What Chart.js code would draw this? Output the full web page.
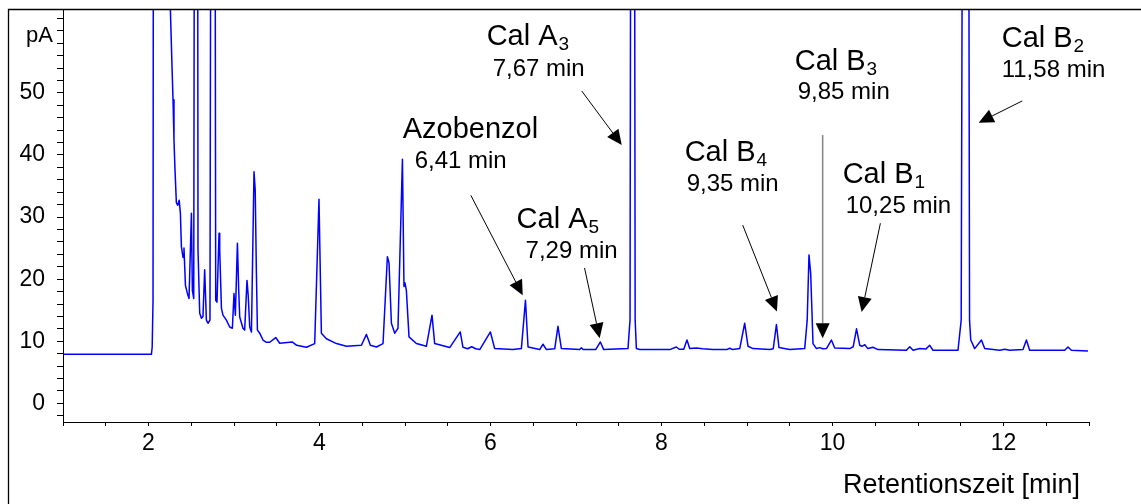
<!DOCTYPE html>
<html>
<head>
<meta charset="utf-8">
<script src="https://cdn.jsdelivr.net/npm/chart.js@4.4.1/dist/chart.umd.min.js"></script>
<style>
  html, body { margin: 0; padding: 0; background: #fff; }
  #wrap { width: 1141px; height: 504px; }
</style>
</head>
<body>
<div id="wrap"><canvas id="chromatogram" width="1141" height="504"></canvas></div>
<script>
// FID chromatogram: retention time [min] and detector signal [pA]
const retentionTime = [
  1.000, 1.429, 2.034, 2.043, 2.053, 2.070, 2.240, 2.256, 2.275, 2.287,
  2.298, 2.310, 2.326, 2.341, 2.359, 2.373, 2.385, 2.404, 2.415, 2.432,
  2.455, 2.474, 2.502, 2.513, 2.529, 2.560, 2.579, 2.599, 2.619, 2.637,
  2.657, 2.677, 2.696, 2.719, 2.757, 2.786, 2.801, 2.825, 2.833, 2.853,
  2.871, 2.911, 2.950, 2.981, 3.000, 3.016, 3.040, 3.055, 3.067, 3.105,
  3.125, 3.152, 3.166, 3.184, 3.204, 3.234, 3.248, 3.262, 3.274, 3.301,
  3.339, 3.379, 3.418, 3.488, 3.535, 3.681, 3.733, 3.847, 3.944, 3.994,
  4.022, 4.081, 4.198, 4.315, 4.490, 4.549, 4.595, 4.666, 4.743, 4.794,
  4.813, 4.841, 4.880, 4.918, 4.970, 4.988, 5.000, 5.016, 5.047, 5.133,
  5.250, 5.316, 5.347, 5.523, 5.646, 5.678, 5.733, 5.780, 5.827, 5.874,
  5.999, 6.049, 6.263, 6.361, 6.409, 6.439, 6.575, 6.614, 6.654, 6.751,
  6.789, 6.829, 7.043, 7.063, 7.084, 7.230, 7.285, 7.324, 7.608, 7.632,
  7.663, 7.692, 7.706, 7.745, 8.096, 8.174, 8.207, 8.260, 8.298, 8.330,
  8.408, 8.482, 8.602, 8.763, 8.798, 8.833, 8.915, 8.973, 9.012, 9.070,
  9.266, 9.307, 9.344, 9.374, 9.499, 9.675, 9.704, 9.725, 9.745, 9.772,
  9.812, 9.850, 9.886, 9.929, 9.987, 10.026, 10.201, 10.242, 10.281, 10.319,
  10.343, 10.378, 10.413, 10.474, 10.532, 10.864, 10.904, 10.942, 11.020, 11.091,
  11.137, 11.175, 11.468, 11.505, 11.564, 11.603, 11.617, 11.663, 11.742, 11.780,
  11.956, 12.014, 12.073, 12.228, 12.268, 12.306, 12.716, 12.754, 12.794, 12.988
];
const signal = [
  7.90, 7.90, 7.90, 9.03, 16.6, 300, 300, 63.4, 54.2, 48.9,
  42.4, 37.6, 32.3, 31.9, 32.7, 30.6, 25.2, 23.5, 25.0, 19.0,
  17.7, 16.9, 30.6, 18.2, 16.9, 300, 24.7, 14.5, 13.7, 14.0,
  21.5, 13.4, 12.9, 13.4, 300, 16.6, 16.3, 27.4, 24.7, 15.3,
  14.2, 13.4, 12.3, 12.1, 17.7, 14.2, 25.8, 18.2, 13.9, 12.1,
  11.8, 19.8, 17.4, 12.3, 11.5, 37.3, 34.4, 21.0, 11.8, 11.3,
  10.2, 9.84, 9.84, 10.6, 9.68, 9.89, 9.35, 9.03, 9.63, 32.85,
  11.3, 10.4, 9.63, 9.19, 9.35, 11.1, 9.35, 9.08, 9.63, 23.6,
  22.6, 12.9, 11.3, 12.1, 39.3, 18.8, 19.4, 18.2, 10.7, 9.63,
  9.19, 14.2, 9.63, 8.98, 11.5, 9.03, 8.79, 9.11, 8.79, 8.66,
  11.5, 8.82, 8.66, 8.82, 16.6, 9.08, 8.66, 9.52, 8.66, 8.79,
  12.4, 8.82, 8.66, 8.95, 8.66, 8.66, 9.89, 8.66, 8.82, 13.4,
  300, 13.4, 8.82, 8.66, 8.66, 9.08, 8.71, 8.71, 10.2, 8.82,
  8.92, 8.79, 8.66, 8.66, 8.87, 8.66, 8.82, 12.9, 9.19, 8.82,
  8.66, 8.79, 12.7, 8.98, 8.66, 8.82, 13.4, 23.9, 20.9, 9.63,
  8.82, 8.98, 8.79, 8.82, 10.2, 8.92, 8.82, 9.11, 12.0, 9.35,
  9.19, 9.44, 8.82, 9.03, 8.66, 8.55, 9.11, 8.55, 8.82, 8.74,
  9.35, 8.55, 8.55, 13.4, 300, 13.4, 10.2, 8.82, 10.2, 8.82,
  8.55, 8.71, 8.55, 8.66, 10.2, 8.55, 8.55, 9.08, 8.55, 8.44
];

// axis labelling
const xTickLabels = [2, 4, 6, 8, 10, 12];
const yTickLabels = [0, 10, 20, 30, 40, 50];
const yUnit = 'pA';
const xTitle = 'Retentionszeit [min]';

// identified peaks
const peakNames = ['Cal A', 'Azobenzol', 'Cal A', 'Cal B', 'Cal B', 'Cal B', 'Cal B'];
const peakSubscripts = ['3', '', '5', '4', '3', '1', '2'];
const peakTimeLabels = ['7,67 min', '6,41 min', '7,29 min', '9,35 min', '9,85 min', '10,25 min', '11,58 min'];

// callout placement in axis units: [min, pA]
const calloutLayout = [
  { name: [5.955, 57.74], time: [6.025, 52.74], from: [7.067, 50.3], to: [7.535, 41.6] },
  { name: [4.973, 42.74], time: [5.113, 37.90], from: [5.770, 33.5], to: [6.377, 17.4] },
  { name: [6.305, 28.23], time: [6.410, 23.39], from: [7.100, 21.8], to: [7.277, 10.5] },
  { name: [8.271, 39.03], time: [8.294, 34.19], from: [8.950, 28.7], to: [9.350, 14.8] },
  { name: [9.558, 53.71], time: [9.593, 49.03], from: [9.885, 43.2], to: [9.885, 10.5], grey: true },
  { name: [10.119, 35.48], time: [10.154, 30.65], from: [10.560, 29.0], to: [10.341, 14.7] },
  { name: [11.979, 57.42], time: [11.979, 52.58], from: [12.220, 48.7], to: [11.710, 45.2] }
];

const FONT = "'Liberation Sans', Arial, Helvetica, sans-serif";

const trace = retentionTime.map((t, i) => ({ x: t, y: signal[i] }));

// outer frame (top and left edge)
const framePlugin = {
  id: 'frame',
  afterDraw(chart) {
    const ctx = chart.ctx;
    ctx.save();
    ctx.strokeStyle = '#000';
    ctx.lineWidth = 1.3;
    ctx.beginPath();
    ctx.moveTo(8.5, 504);
    ctx.lineTo(8.5, 9.5);
    ctx.lineTo(1141, 9.5);
    ctx.stroke();
    ctx.restore();
  }
};

// unit label on the y axis and title of the x axis
const axisTextPlugin = {
  id: 'axisText',
  afterDraw(chart) {
    const ctx = chart.ctx;
    const ys = chart.scales.y;
    const area = chart.chartArea;
    ctx.save();
    ctx.fillStyle = '#000';
    ctx.font = '22px ' + FONT;
    ctx.textAlign = 'right';
    ctx.textBaseline = 'alphabetic';
    ctx.fillText(yUnit, area.left - 10, ys.getPixelForValue(60) + 11);
    ctx.font = '27px ' + FONT;
    ctx.fillText(xTitle, area.right - 9, 493);
    ctx.restore();
  }
};

function arrow(ctx, x1, y1, x2, y2, lineColor, lineWidth) {
  const len = 15, half = 7;
  const ang = Math.atan2(y2 - y1, x2 - x1);
  const bx = x2 - len * Math.cos(ang), by = y2 - len * Math.sin(ang);
  ctx.strokeStyle = lineColor;
  ctx.lineWidth = lineWidth;
  ctx.beginPath();
  ctx.moveTo(x1, y1);
  ctx.lineTo(bx, by);
  ctx.stroke();
  ctx.fillStyle = '#000';
  ctx.beginPath();
  ctx.moveTo(x2, y2);
  ctx.lineTo(bx + half * Math.sin(ang), by - half * Math.cos(ang));
  ctx.lineTo(bx - half * Math.sin(ang), by + half * Math.cos(ang));
  ctx.closePath();
  ctx.fill();
}

// peak names, retention times and arrows
const calloutPlugin = {
  id: 'callouts',
  afterDatasetsDraw(chart) {
    const ctx = chart.ctx;
    const xs = chart.scales.x, ys = chart.scales.y;
    const px = p => [xs.getPixelForValue(p[0]), ys.getPixelForValue(p[1])];
    ctx.save();
    calloutLayout.forEach((c, i) => {
      const [fx, fy] = px(c.from);
      const [tx, ty] = px(c.to);
      arrow(ctx, fx, fy, tx, ty, c.grey ? '#8a8a8a' : '#000', c.grey ? 1.6 : 1);

      ctx.fillStyle = '#000';
      ctx.textAlign = 'left';
      ctx.textBaseline = 'alphabetic';
      const [nx, ny] = px(c.name);
      ctx.font = '29px ' + FONT;
      ctx.fillText(peakNames[i], nx, ny);
      if (peakSubscripts[i]) {
        const w = ctx.measureText(peakNames[i]).width;
        ctx.font = '19px ' + FONT;
        ctx.fillText(peakSubscripts[i], nx + w + 1, ny + 5);
      }
      const [mx, my] = px(c.time);
      ctx.font = '24px ' + FONT;
      ctx.fillText(peakTimeLabels[i], mx, my);
    });
    ctx.restore();
  }
};

new Chart(document.getElementById('chromatogram'), {
  type: 'line',
  data: {
    datasets: [{
      data: trace,
      borderColor: '#0000ff',
      borderWidth: 1.5,
      borderJoinStyle: 'round',
      pointRadius: 0,
      tension: 0,
      fill: false
    }]
  },
  options: {
    responsive: false,
    animation: false,
    devicePixelRatio: 1,
    events: [],
    layout: { padding: { left: 0, top: 9, right: 52, bottom: 0 } },
    plugins: { legend: { display: false }, tooltip: { enabled: false } },
    scales: {
      x: {
        type: 'linear',
        min: 1,
        max: 13,
        afterFit(scale) {
          scale.height = 82;
          scale.paddingLeft = 0;
          scale.paddingRight = 0;
        },
        border: { display: true, color: '#000', width: 1 },
        grid: { drawOnChartArea: false, drawTicks: true, tickLength: 4, color: '#000', lineWidth: 1 },
        ticks: {
          stepSize: 0.5,
          autoSkip: false,
          maxRotation: 0,
          padding: 4,
          color: '#000',
          font: { family: FONT, size: 23 },
          callback: v => (xTickLabels.includes(v) ? String(v) : '')
        }
      },
      y: {
        type: 'linear',
        min: -3,
        max: 63.5,
        afterFit(scale) {
          scale.width = 63;
          scale.paddingTop = 0;
          scale.paddingBottom = 0;
        },
        border: { display: true, color: '#000', width: 1 },
        grid: { drawOnChartArea: false, drawTicks: true, tickLength: 6, color: '#000', lineWidth: 1 },
        ticks: {
          stepSize: 2,
          includeBounds: false,
          autoSkip: false,
          padding: 12,
          color: '#000',
          font: { family: FONT, size: 23 },
          callback: v => (yTickLabels.includes(v) ? String(v) : '')
        }
      }
    }
  },
  plugins: [framePlugin, axisTextPlugin, calloutPlugin]
});
</script>
</body>
</html>
